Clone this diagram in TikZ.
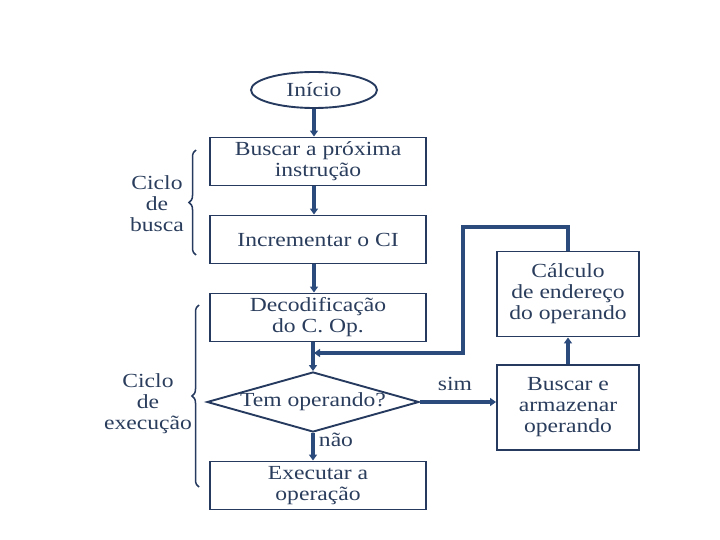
\documentclass[tikz,border=0pt]{standalone}
\usepackage{fontspec}
\setmainfont{Liberation Serif}[FakeStretch=1.18]
\usetikzlibrary{shapes.geometric,arrows.meta,decorations.pathreplacing}
\definecolor{txt}{HTML}{2A3D5C}
\definecolor{ln}{HTML}{253A5E}
\definecolor{ar}{HTML}{2C4B7D}
\begin{document}
\begin{tikzpicture}[x=1pt,y=-1pt,
  every node/.style={font=\fontsize{20}{21}\selectfont, text=txt, align=center},
  box/.style={draw=ln, line width=1.9pt, minimum width=216pt, minimum height=48pt, inner sep=0pt},
  rbox/.style={draw=ln, line width=1.9pt, minimum width=142pt, minimum height=85pt, inner sep=0pt},
  arr/.style={draw=ar, line width=3.6pt, -{Triangle[length=6pt,width=8pt]}},
  brc/.style={draw=ln, line width=1.5pt, decorate, decoration={brace, amplitude=7pt}}]
\useasboundingbox (0,0) rectangle (720,540);
\node[draw=ln, line width=1.9pt, ellipse, minimum width=126pt, minimum height=36pt, inner sep=0pt] (ini) at (314,90) {Início};
\node[box] (b1) at (318,161.5) {Buscar a próxima\\instrução};
\node[box] (b2) at (318,239.5) {Incrementar o CI};
\node[box] (b3) at (318,317.5) {Decodificação\\do C. Op.};
\node[draw=ln, line width=1.9pt, diamond, aspect=3.53, minimum width=212pt, minimum height=60pt, inner sep=0pt] (dia) at (313,402) {Tem operando?};
\node[box] (b4) at (318,485.5) {Executar a\\operação};
\node[rbox] (calc) at (568,294) {Cálculo\\de endereço\\do operando};
\node[rbox] (be) at (568,407.5) {Buscar e\\armazenar\\operando};
\node (sim) at (455,384) {sim};
\node (nao) at (336,440) {não};
\node (cb) at (157,204) {Ciclo\\de\\busca};
\node (ce) at (148,404) {Ciclo\\de\\execução};
\coordinate (mg) at (314,353);
\coordinate (lf) at (463,227);
\draw[arr] (ini.south) -- (ini.south |- b1.north);
\draw[arr] (b1.south -| ini.south) -- (b2.north -| ini.south);
\draw[arr] (b2.south -| ini.south) -- (b3.north -| ini.south);
\draw[arr] (b3.south -| dia.north) -- (dia.north);
\draw[arr] (dia.south) -- (dia.south |- b4.north);
\draw[arr] (dia.east) -- (dia.east -| be.west);
\draw[arr] (be.north) -- (calc.south);
\draw[arr] (calc.north) -- (calc.north |- lf) -- (lf) -- (lf |- mg) -- (mg);
\draw[brc] (196,255) -- (196,150);
\draw[brc] (199,487) -- (199,305);
\end{tikzpicture}
\end{document}
